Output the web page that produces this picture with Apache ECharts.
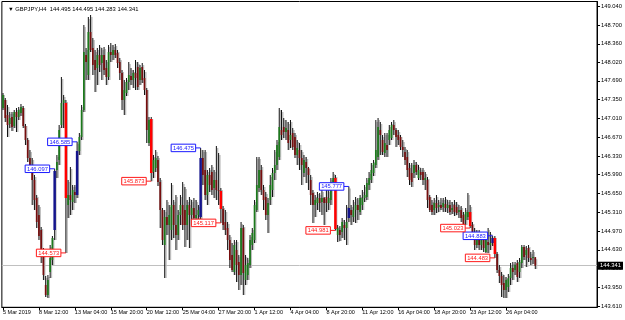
<!DOCTYPE html>
<html><head><meta charset="utf-8">
<script src="https://cdn.jsdelivr.net/npm/echarts@6/dist/echarts.min.js"></script>
<style>html,body{margin:0;padding:0;background:#fff}#c{width:625px;height:320px}</style>
</head><body><div id="c"></div>
<script>
const symbolName = 'GBPJPY,H4';
const timeLabels = ['5 Mar 2019','8 Mar 12:00','13 Mar 04:00','15 Mar 20:00','20 Mar 12:00','25 Mar 04:00','27 Mar 20:00','1 Apr 12:00','4 Apr 04:00','8 Apr 20:00','11 Apr 12:00','16 Apr 04:00','18 Apr 20:00','23 Apr 12:00','26 Apr 04:00'];
const priceTicks = [149.04,148.70,148.36,148.02,147.69,147.35,147.01,146.67,146.33,145.99,145.65,145.31,144.97,144.63,144.29,143.95,143.61];

const openP = [147.198,147.343,147.071,146.908,147.035,146.872,147.125,147.035,147.107,147.198,
146.872,146.618,146.292,146.165,145.893,145.567,145.260,144.988,144.589,143.991,
143.810,144.227,144.444,144.988,146.075,146.256,146.890,147.288,147.288,145.441,
145.622,145.495,145.676,145.622,146.419,146.672,147.161,148.158,147.795,148.574,
148.285,148.067,147.922,148.158,148.013,148.158,147.922,147.759,148.212,148.158,
148.248,148.194,148.031,147.832,147.343,147.470,147.669,147.777,147.705,147.832,
147.940,147.705,147.940,147.741,147.524,146.564,146.998,146.038,146.111,146.256,
145.857,145.350,144.716,145.223,145.078,144.988,145.441,145.078,144.897,145.260,
145.441,145.350,145.078,145.441,145.260,145.386,145.205,145.260,145.223,146.292,
146.075,145.622,145.984,146.038,145.749,145.893,145.712,145.694,145.368,145.133,
145.024,144.807,144.535,144.227,144.626,144.408,144.173,145.024,144.082,144.173,
144.354,144.716,144.807,145.350,145.749,146.075,145.712,145.586,145.260,145.531,
145.712,146.020,146.165,146.310,146.799,146.854,146.763,146.799,146.618,146.745,
146.672,146.346,146.437,146.292,146.020,146.220,146.111,145.893,145.658,145.441,
145.477,145.567,145.495,145.567,145.586,145.477,145.531,145.803,145.930,144.897,
144.988,144.952,145.078,145.024,145.205,145.350,145.223,145.350,145.441,145.314,
145.441,145.567,145.586,145.803,145.893,146.020,146.165,146.310,146.799,146.618,
146.383,146.527,146.618,146.654,146.890,146.799,146.708,146.672,146.491,146.401,
146.310,146.111,146.020,146.020,146.165,145.930,146.038,146.038,145.893,145.893,
145.586,145.441,145.350,145.477,145.405,145.441,145.405,145.459,145.386,145.441,
145.350,145.441,145.405,145.314,145.350,145.260,145.169,145.223,145.314,145.078,
144.897,144.716,144.843,144.716,144.807,144.589,144.770,144.716,144.752,144.843,
144.553,144.263,144.155,144.028,143.901,143.955,144.118,144.299,144.263,144.390,
144.227,144.390,144.680,144.535,144.662,144.481,144.481,144.495];

const highP = [147.470,147.379,147.252,147.125,147.125,147.161,147.198,147.216,147.270,147.234,
146.908,146.654,146.437,146.292,145.984,145.622,145.441,145.042,144.662,144.155,
144.173,144.716,144.879,146.097,146.346,146.890,147.759,147.433,147.343,145.893,
146.129,145.803,145.803,146.585,146.745,147.252,148.701,148.285,148.846,148.882,
148.466,148.248,148.285,148.339,148.285,148.303,148.067,148.339,148.375,148.339,
148.357,148.248,148.103,147.886,147.705,147.741,148.031,147.922,147.886,148.067,
148.031,147.977,148.013,147.886,147.560,147.035,147.035,146.346,146.437,146.328,
145.930,145.386,145.350,145.531,145.441,145.839,145.531,145.622,145.350,145.622,
145.857,145.767,145.531,145.586,145.531,145.567,145.531,145.441,146.475,146.437,
146.437,146.075,146.111,146.165,146.075,146.509,146.383,145.749,145.423,145.350,
145.133,144.897,144.752,144.807,144.807,144.535,145.133,145.078,144.535,144.481,
144.897,145.024,145.531,146.310,146.310,146.165,145.803,145.676,145.567,145.984,
146.111,146.437,146.618,147.198,147.161,147.017,146.980,146.944,146.980,146.835,
146.745,146.618,146.564,146.437,146.346,146.310,146.129,145.984,145.712,145.622,
145.676,145.658,145.712,145.586,145.803,145.712,145.930,146.038,145.984,145.078,
145.060,145.205,145.169,145.441,145.777,145.441,145.531,145.586,145.567,145.622,
145.712,145.803,145.930,146.038,146.201,146.256,146.980,147.017,146.944,146.708,
146.745,146.745,146.890,146.944,146.980,146.835,146.799,146.708,146.618,146.491,
146.437,146.201,146.201,146.256,146.220,146.165,146.111,146.111,146.038,145.948,
145.622,145.531,145.567,145.622,145.531,145.567,145.567,145.586,145.531,145.531,
145.495,145.531,145.495,145.441,145.423,145.314,145.386,145.658,145.441,145.133,
145.024,144.988,144.988,144.897,144.897,144.879,145.024,144.952,144.883,144.879,
144.589,144.354,144.227,144.173,144.136,144.191,144.390,144.408,144.408,144.444,
144.481,144.716,144.716,144.698,144.716,144.589,144.626,144.495];

const lowP = [147.161,146.944,146.672,146.835,146.781,146.835,146.763,146.980,147.053,146.835,
146.527,146.220,146.075,145.441,145.350,145.024,144.807,144.390,144.082,143.774,
143.756,144.118,144.354,144.807,145.930,146.165,146.835,146.835,144.573,145.205,
145.260,145.350,145.477,145.567,146.346,146.618,147.125,147.705,147.705,148.212,
147.795,147.488,147.614,147.850,147.705,147.795,147.614,147.705,148.031,148.067,
148.103,147.922,147.705,147.161,147.071,147.415,147.524,147.614,147.560,147.524,
147.524,147.614,147.651,147.433,146.564,146.509,145.873,145.930,146.038,145.785,
145.024,144.716,144.118,144.897,144.444,144.807,144.843,144.626,144.807,145.078,
144.988,144.680,144.807,144.662,145.078,145.133,145.133,145.187,145.187,145.803,
145.531,145.441,145.676,145.622,145.567,145.531,145.441,145.117,144.988,144.897,
144.626,144.299,144.227,144.173,144.046,143.901,143.991,143.810,143.991,144.082,
144.299,144.626,144.752,145.314,145.676,145.622,145.350,145.169,144.933,145.441,
145.586,145.893,146.075,146.256,146.618,146.654,146.618,146.437,146.473,146.437,
146.292,146.165,146.075,145.803,145.948,145.839,145.712,145.441,145.115,145.223,
145.350,145.314,145.260,145.078,145.314,145.350,145.441,145.712,144.981,144.770,
144.789,144.843,144.807,144.716,145.133,145.078,145.133,145.115,145.169,145.260,
145.350,145.495,145.531,145.712,145.839,145.966,146.111,146.256,146.346,146.346,
146.310,146.310,146.527,146.618,146.708,146.491,146.527,146.437,146.310,146.165,
145.948,145.803,145.767,145.930,145.984,145.893,145.893,145.803,145.712,145.386,
145.314,145.260,145.260,145.296,145.314,145.350,145.314,145.314,145.296,145.260,
145.278,145.241,145.260,145.205,145.133,144.988,145.078,145.169,145.023,144.843,
144.626,144.662,144.626,144.626,144.589,144.571,144.571,144.626,144.698,144.483,
144.209,144.028,143.774,143.756,143.756,143.864,143.991,144.082,144.173,144.046,
144.118,144.299,144.444,144.318,144.408,144.354,144.372,144.283];

const closeP = [147.433,147.017,146.890,147.017,146.854,147.125,147.035,147.161,147.216,146.872,
146.618,146.292,146.165,145.893,145.531,145.133,144.879,144.589,144.173,143.810,
144.082,144.481,144.843,146.056,146.220,146.799,147.288,147.343,145.567,145.622,
145.531,145.712,145.622,146.419,146.672,147.161,148.212,148.031,148.574,148.248,
147.977,147.886,148.158,147.977,148.158,147.886,147.759,148.212,148.158,148.248,
148.158,148.013,147.832,147.343,147.524,147.669,147.795,147.705,147.832,147.741,
147.578,147.922,147.705,147.524,146.799,146.980,146.020,146.256,146.292,145.857,
145.350,144.807,145.223,145.078,145.260,145.441,145.078,144.897,145.260,145.441,
145.078,145.078,145.441,145.260,145.386,145.205,145.260,145.350,146.292,145.984,
145.622,145.984,145.803,145.712,145.893,145.712,145.694,145.368,145.078,144.988,
144.807,144.444,144.263,144.716,144.354,144.173,145.024,144.209,144.354,144.390,
144.807,144.933,145.441,145.803,146.075,145.712,145.531,145.260,145.477,145.803,
146.020,146.165,146.527,146.854,146.708,146.763,146.835,146.564,146.708,146.491,
146.346,146.473,146.292,146.165,146.256,146.111,145.984,145.622,145.441,145.531,
145.567,145.477,145.567,145.477,145.477,145.567,145.857,145.930,145.006,145.024,
144.897,145.133,145.024,145.133,145.386,145.260,145.350,145.441,145.350,145.567,
145.567,145.622,145.839,145.930,146.075,146.201,146.437,146.854,146.708,146.401,
146.564,146.437,146.799,146.890,146.799,146.672,146.618,146.491,146.437,146.256,
146.075,145.893,145.857,146.165,146.038,146.075,145.984,145.893,145.930,145.531,
145.350,145.314,145.477,145.386,145.441,145.386,145.477,145.386,145.441,145.314,
145.386,145.314,145.296,145.350,145.205,145.042,145.314,145.314,145.060,144.952,
144.716,144.861,144.716,144.807,144.662,144.807,144.716,144.752,144.843,144.553,
144.263,144.155,143.991,143.901,144.082,144.118,144.299,144.227,144.354,144.136,
144.408,144.680,144.499,144.626,144.481,144.444,144.499,144.341];

const bigBullBars = [23, 33, 88, 154, 218];
const bigBearBars = [28, 66, 97, 148, 208, 219];

const SLOTS = 265;
const categories = Array.from({length: SLOTS}, (_, i) => String(i));
const last = closeP.length - 1;
const lastClose = closeP[last];

const candleData = openP.map((o, i) => [i, o, closeP[i], lowP[i], highP[i],
  bigBullBars.includes(i) ? 1 : (bigBearBars.includes(i) ? 2 : 0)]);

const labelData = bigBullBars.map(i => [i, highP[i], 1])
  .concat(bigBearBars.map(i => [i, lowP[i], 2]));

const FONT = '"Liberation Sans", Arial, sans-serif';

function renderCandle(params, api) {
  const i = api.value(0);
  const o = api.coord([i, api.value(1)]);
  const c = api.coord([i, api.value(2)]);
  const l = api.coord([i, api.value(3)]);
  const h = api.coord([i, api.value(4)]);
  const kind = api.value(5);
  const x = o[0];
  const bull = api.value(2) >= api.value(1);
  let color = bull ? '#1c7a1c' : '#760e0e';
  let bw = 1.7;
  if (kind === 1) { color = '#14148c'; bw = 2.5; }
  if (kind === 2) { color = '#ff0000'; bw = 2.5; }
  const top = Math.min(o[1], c[1]);
  const bh = Math.max(Math.abs(o[1] - c[1]), 1);
  return {
    type: 'group',
    children: [
      { type: 'rect', shape: { x: x + 0.6, y: h[1] + 2, width: 1.4, height: Math.max(l[1] - h[1] - 2, 1) }, style: { fill: '#bdbdbd' } },
      { type: 'rect', shape: { x: x - 0.5, y: h[1], width: 1, height: Math.max(l[1] - h[1], 1) }, style: { fill: '#111' } },
      { type: 'rect', shape: { x: x - bw / 2, y: top, width: bw, height: bh }, style: { fill: color } }
    ]
  };
}

function renderLabel(params, api) {
  const i = api.value(0);
  const price = api.value(1);
  const kind = api.value(2);
  const p = api.coord([i, price]);
  const col = kind === 1 ? '#1a1aff' : '#ff1a1a';
  const w = 24.5, hgt = 7.5;
  const bx = p[0] - 5 - w;
  return {
    type: 'group',
    children: [
      { type: 'line', shape: { x1: bx + w, y1: p[1], x2: p[0], y2: p[1] }, style: { stroke: col, lineWidth: 1 } },
      { type: 'rect', shape: { x: bx, y: p[1] - hgt / 2, width: w, height: hgt }, style: { fill: '#fff', stroke: col, lineWidth: 1 } },
      { type: 'text', style: { text: price.toFixed(3), x: bx + w / 2, y: p[1] + 0.3, align: 'center', verticalAlign: 'middle', fill: col, fontSize: 5.8, fontFamily: FONT } }
    ]
  };
}

const chart = echarts.init(document.getElementById('c'), null, { renderer: 'canvas' });
chart.setOption({
  animation: false,
  backgroundColor: '#fff',
  textStyle: { fontFamily: FONT },
  title: {
    text: '\u25BC ' + symbolName + '  ' + openP[last].toFixed(3) + ' ' + highP[last].toFixed(3) + ' ' + lowP[last].toFixed(3) + ' ' + lastClose.toFixed(3),
    left: 3, top: 1.5,
    textStyle: { fontSize: 5.8, fontWeight: 'normal', color: '#000', fontFamily: FONT }
  },
  grid: { left: 1, right: 27.5, top: 1.5, bottom: 12.7, show: true, borderColor: '#000', borderWidth: 1, backgroundColor: '#fff' },
  xAxis: {
    type: 'category',
    data: categories,
    boundaryGap: true,
    axisLine: { show: true, lineStyle: { color: '#000', width: 1 } },
    axisTick: {
      show: true, length: 3, alignWithLabel: true,
      interval: (idx) => idx % 16 === 0 && idx / 16 < timeLabels.length,
      lineStyle: { color: '#000' }
    },
    axisLabel: {
      interval: (idx) => idx % 16 === 0 && idx / 16 < timeLabels.length,
      formatter: (v, idx) => timeLabels[idx / 16] || '',
      align: 'left', fontSize: 5.5, color: '#000', margin: 2.5, fontFamily: FONT
    },
    splitLine: { show: false }
  },
  yAxis: {
    type: 'value',
    position: 'right',
    min: 143.588, max: 149.127,
    axisLine: { show: true, lineStyle: { color: '#000', width: 1 } },
    axisTick: { show: true, length: 3, customValues: priceTicks, lineStyle: { color: '#000' } },
    axisLabel: { customValues: priceTicks, formatter: v => v.toFixed(3), fontSize: 5.8, color: '#000', margin: 4, align: 'left', fontFamily: FONT },
    splitLine: { show: false }
  },
  series: [
    {
      type: 'custom',
      name: 'candles',
      renderItem: renderCandle,
      data: candleData,
      encode: { x: 0, y: [1, 2, 3, 4] },
      clip: true,
      z: 2,
      markLine: {
        silent: true,
        symbol: ['none', 'none'],
        animation: false,
        precision: 3,
        data: [{ yAxis: lastClose }],
        lineStyle: { color: '#c0c0c0', width: 1, type: 'solid' },
        label: {
          show: true, position: 'end', distance: 1,
          formatter: () => lastClose.toFixed(3),
          backgroundColor: '#000', color: '#fff', fontSize: 5.8, fontFamily: FONT, padding: [1, 2, 1, 2]
        },
        z: 1
      }
    },
    {
      type: 'custom',
      name: 'labels',
      renderItem: renderLabel,
      data: labelData,
      encode: { x: 0, y: 1 },
      clip: false,
      z: 5
    }
  ]
});
</script>
</body></html>
